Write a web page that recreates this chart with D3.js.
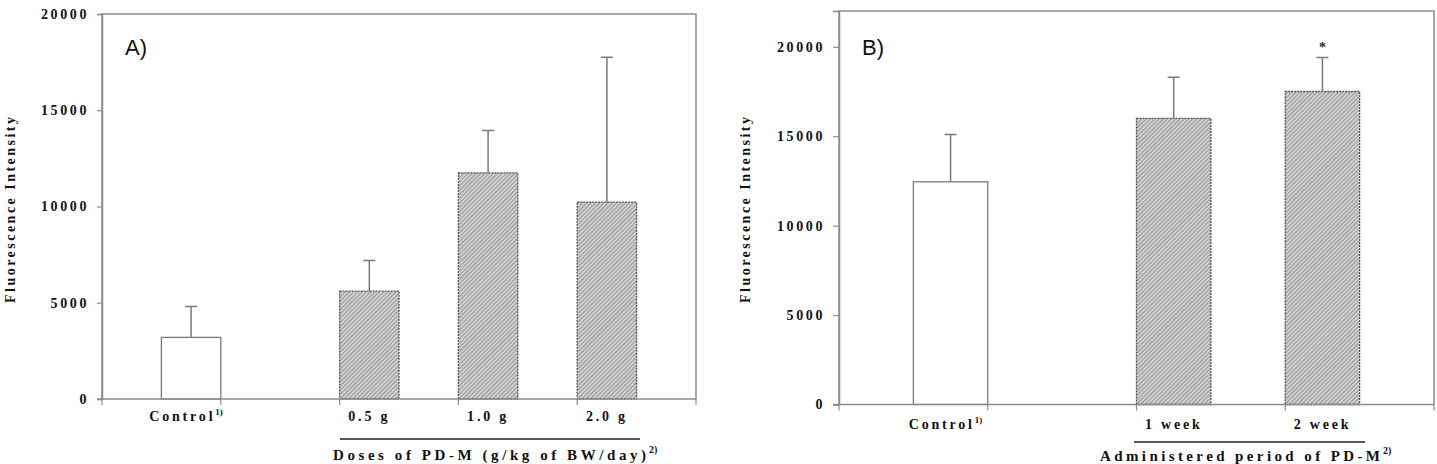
<!DOCTYPE html>
<html>
<head>
<script src="https://cdn.jsdelivr.net/npm/d3@7"></script>
<style>
  body { margin: 0; background: #fff; }
</style>
</head>
<body>
<svg id="chart" width="1437" height="464"></svg>
<script>
// panel A: doses
var catsA = ["Control", "", "0.5 g", "1.0 g", "2.0 g"];
var meansA = [3200, null, 5600, 11750, 10230];
var sdA = [1600, null, 1600, 2200, 7520];
var ticksA = [0, 5000, 10000, 15000, 20000];

// panel B: administered period
var catsB = ["Control", "", "1 week", "2 week"];
var meansB = [12450, null, 16000, 17500];
var sdB = [2650, null, 2300, 1900];
var ticksB = [0, 5000, 10000, 15000, 20000];
var starB = [false, false, false, true];

var serif = "'Liberation Serif', 'Times New Roman', serif";
var svg = d3.select("#chart");

// hatch pattern for the PD-M bars
var defs = svg.append("defs");
var pat = defs.append("pattern")
  .attr("id", "hatch")
  .attr("patternUnits", "userSpaceOnUse")
  .attr("width", 3).attr("height", 3)
  .attr("patternTransform", "rotate(-45)");
pat.append("rect").attr("width", 3).attr("height", 3).attr("fill", "#cfcfcf");
pat.append("line").attr("x1", 0).attr("y1", 0).attr("x2", 3).attr("y2", 0)
  .attr("stroke", "#8a8a8a").attr("stroke-width", 1.6);

function drawPanel(o) {
  var g = svg.append("g").style("font-family", serif);

  var x = d3.scaleBand().domain(o.cats).range([o.left, o.right]).padding(0);
  // two slots per category: treated bars sit left, control sits right
  var slot = d3.scaleBand().domain(["treated", "control"]).range([0, x.bandwidth()]);
  var y = d3.scaleLinear().domain(o.domain).range([o.bottom, o.top]);
  var group = i => i === 0 ? "control" : "treated";
  var rows = o.cats.map((c, i) => ({ cat: c, mean: o.means[i], sd: o.sd[i], i: i }))
    .filter(d => d.mean != null);

  // frame
  g.append("path")
    .attr("d", `M${o.left},${o.bottom}V${o.top}H${o.right}V${o.bottom}`)
    .attr("fill", "none").attr("stroke", "#8c8c8c").attr("stroke-width", 1.5);

  // y axis
  var yAxis = g.append("g")
    .attr("transform", `translate(${o.left},0)`)
    .call(d3.axisLeft(y).tickValues(o.ticks).tickFormat(d3.format("d"))
      .tickSize(o.tickLen).tickPadding(8));
  yAxis.select(".domain").attr("stroke", "#8c8c8c").attr("stroke-width", 1.5);
  yAxis.selectAll(".tick line").attr("stroke", "#8c8c8c").attr("stroke-width", 1.2);
  yAxis.selectAll(".tick text")
    .style("font-family", serif).attr("font-weight", "bold")
    .attr("font-size", 14).attr("letter-spacing", 2.6).attr("fill", "#111");

  // bars
  g.selectAll(".bar").data(rows).join("rect")
    .attr("x", d => x(d.cat) + slot(group(d.i)))
    .attr("y", d => y(d.mean))
    .attr("width", slot.bandwidth())
    .attr("height", d => y(0) - y(d.mean))
    .attr("fill", d => d.i === 0 ? "#fff" : "url(#hatch)")
    .attr("stroke", d => d.i === 0 ? "#7a7a7a" : "#555")
    .attr("stroke-dasharray", d => d.i === 0 ? null : "2,1")
    .attr("stroke-width", 1.3);

  // error bars
  var cx = d => x(d.cat) + slot(group(d.i)) + slot.bandwidth() / 2;
  g.selectAll(".err").data(rows).join("path")
    .attr("d", d => `M${cx(d)},${y(d.mean)}V${y(d.mean + d.sd)}M${cx(d) - 6},${y(d.mean + d.sd)}H${cx(d) + 6}`)
    .attr("fill", "none").attr("stroke", "#7a7a7a").attr("stroke-width", 1.5);

  if (o.star) {
    g.selectAll(".star").data(rows.filter(d => o.star[d.i])).join("text")
      .attr("x", cx).attr("y", d => y(d.mean + d.sd) - 6)
      .attr("text-anchor", "middle").attr("font-weight", "bold").attr("font-size", 14)
      .attr("fill", "#333")
      .text("*");
  }

  // x axis line + ticks at category boundaries
  var bounds = o.cats.map(c => x(c)).concat([o.right]);
  g.selectAll(".xt").data(bounds).join("line")
    .attr("x1", d => d).attr("x2", d => d)
    .attr("y1", o.bottom).attr("y2", o.bottom + 6)
    .attr("stroke", "#8c8c8c").attr("stroke-width", 1.2);
  g.append("line")
    .attr("x1", o.left - o.tickLen).attr("x2", o.right)
    .attr("y1", o.bottom).attr("y2", o.bottom)
    .attr("stroke", "#8c8c8c").attr("stroke-width", 1.5);

  // category labels under the bars
  var lab = g.selectAll(".xl").data(rows).join("text")
    .attr("x", d => cx(d) - (d.i === 0 ? 5 : 0))
    .attr("y", o.labelY)
    .attr("text-anchor", "middle").attr("fill", "#111")
    .attr("font-weight", "bold").attr("font-size", 14).attr("letter-spacing", 2.8);
  lab.append("tspan").text(d => d.cat);
  lab.filter(d => d.i === 0).append("tspan")
    .attr("dy", -6).attr("font-size", 9).attr("letter-spacing", 0).text("1)");

  // bracket line and title under the PD-M groups
  g.append("line")
    .attr("x1", o.lineX[0]).attr("x2", o.lineX[1])
    .attr("y1", o.lineY).attr("y2", o.lineY)
    .attr("stroke", "#222").attr("stroke-width", 1.5);
  g.append("text")
    .attr("x", o.titleX).attr("y", o.titleY).attr("fill", "#111")
    .attr("font-weight", "bold").attr("font-size", 15)
    .attr("textLength", o.titleLen).attr("lengthAdjust", "spacing")
    .text(o.title);
  g.append("text")
    .attr("x", o.titleX + o.titleLen + 3).attr("y", o.titleY - 7).attr("fill", "#111")
    .attr("font-weight", "bold").attr("font-size", 10)
    .text("2)");

  // y title
  g.append("text")
    .attr("transform", `translate(${o.yTitleX},${o.yTitleY}) rotate(-90)`)
    .attr("text-anchor", "middle").attr("fill", "#111")
    .attr("font-weight", "bold").attr("font-size", 14)
    .attr("textLength", 186).attr("lengthAdjust", "spacing")
    .text("Fluorescence Intensity");

  // panel letter
  g.append("text")
    .attr("x", o.left + 23).attr("y", 55)
    .style("font-family", "'Liberation Sans', Arial, sans-serif")
    .attr("font-size", 22).attr("fill", "#111")
    .text(o.letter);
}

drawPanel({
  cats: catsA, means: meansA, sd: sdA, ticks: ticksA, domain: [0, 20000],
  left: 102, right: 696, top: 14, bottom: 399, tickLen: 5,
  labelY: 421, lineX: [340, 640], lineY: 439,
  title: "Doses of PD-M  (g/kg of BW/day)", titleX: 333, titleY: 460, titleLen: 313,
  yTitleX: 15, yTitleY: 210, letter: "A)"
});

drawPanel({
  cats: catsB, means: meansB, sd: sdB, ticks: ticksB, domain: [0, 22000], star: starB,
  left: 839, right: 1434, top: 11, bottom: 404.5, tickLen: 6,
  labelY: 429, lineX: [1134, 1365], lineY: 442,
  title: "Administered period of  PD-M", titleX: 1100, titleY: 461, titleLen: 280,
  yTitleX: 750, yTitleY: 210, letter: "B)"
});
</script>
</body>
</html>
